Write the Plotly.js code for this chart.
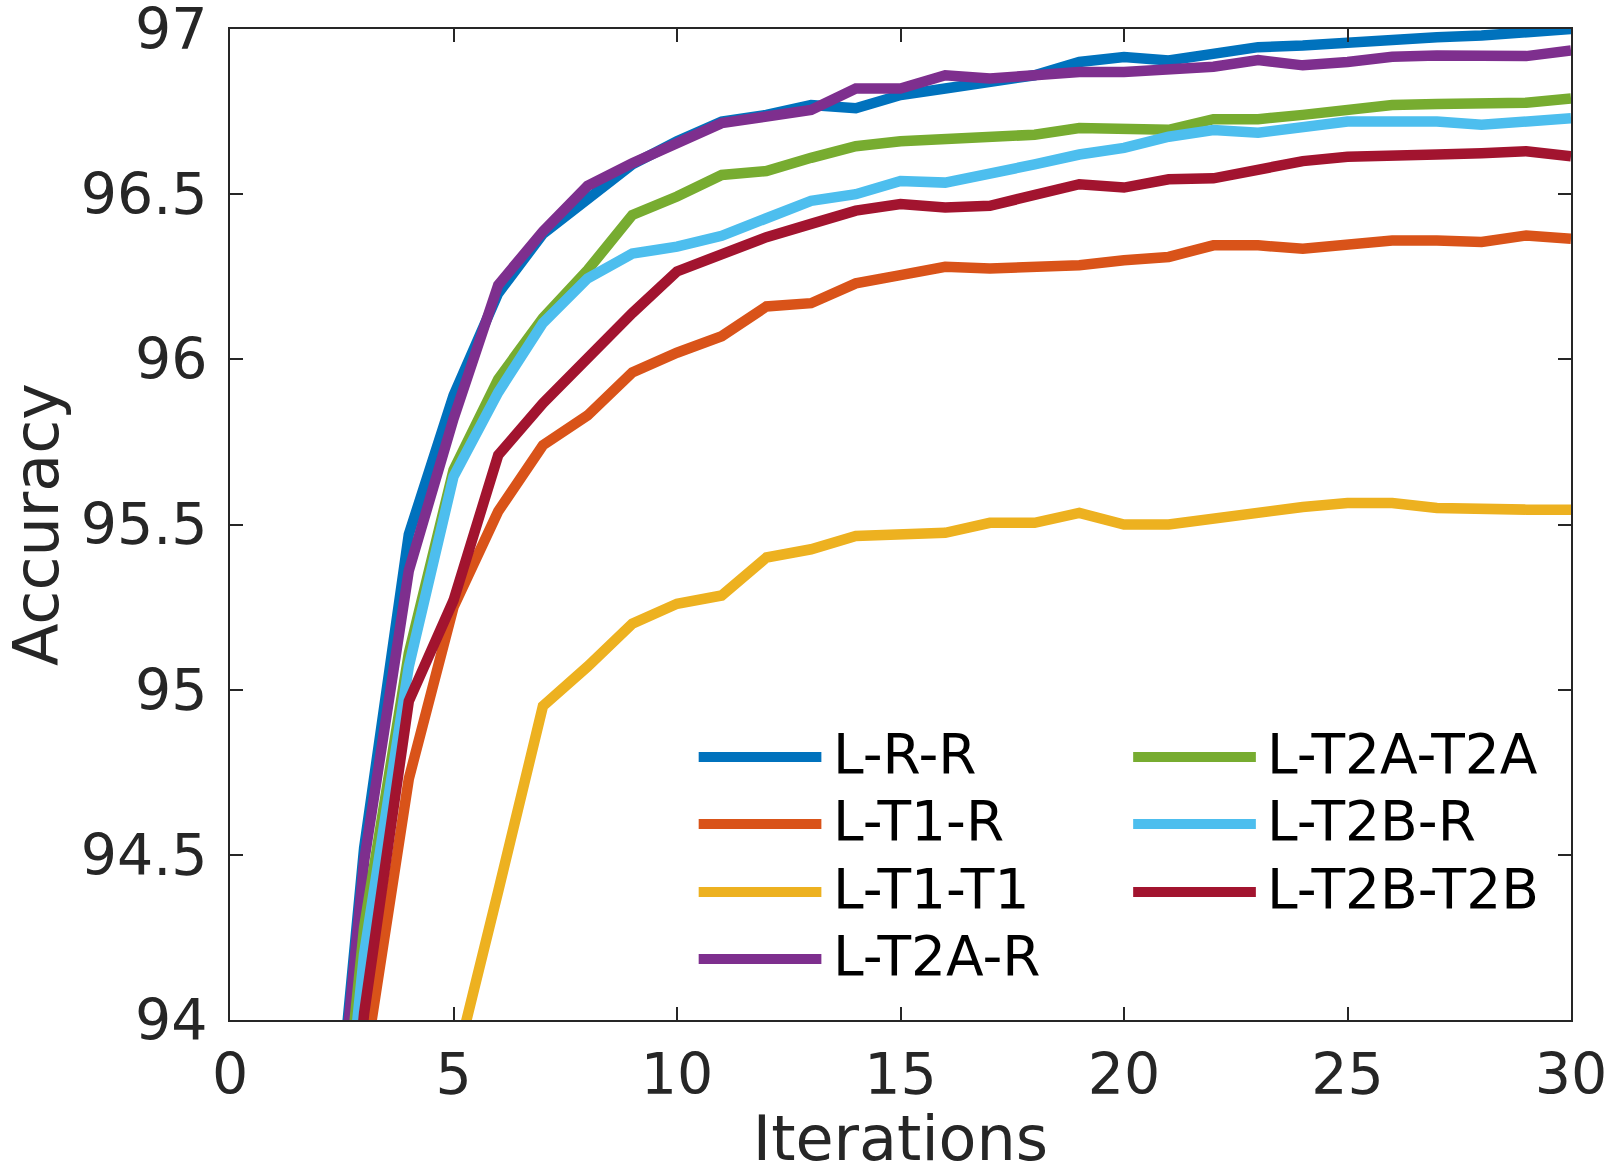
<!DOCTYPE html>
<html>
<head>
<meta charset="utf-8">
<script src="https://cdn.plot.ly/plotly-3.0.1.min.js"></script>
<style>
  body { margin: 0; background: #fff; }
  #chart { width: 1608px; height: 1175px; }
</style>
</head>
<body>
<div id="chart"></div>
<script>
// iterations on the x axis
var iterations = [1, 2, 3, 4, 5, 6, 7, 8, 9, 10, 11, 12, 13, 14, 15,
	16, 17, 18, 19, 20, 21, 22, 23, 24, 25, 26, 27, 28, 29, 30];

// accuracy per configuration
var accLRR = [90.5, 93.1, 94.52, 95.47, 95.89, 96.20, 96.38, 96.49, 96.59, 96.66,
	96.72, 96.74, 96.77, 96.76, 96.80, 96.82, 96.84, 96.86, 96.90, 96.915,
	96.905, 96.925, 96.945, 96.95, 96.96, 96.97, 96.975, 96.98, 96.99, 97.0];
var accLT1R = [89.2, 92.4, 93.85, 94.73, 95.25, 95.54, 95.74, 95.83, 95.96, 96.02,
	96.07, 96.16, 96.17, 96.23, 96.255, 96.28, 96.275, 96.28, 96.285, 96.30,
	96.31, 96.345, 96.345, 96.335, 96.35, 96.36, 96.36, 96.355, 96.375, 96.365];
var accLT1T1 = [86.5, 88.3, 90.1, 92.0, 93.84, 94.39, 94.95, 95.07, 95.20, 95.26,
	95.285, 95.40, 95.425, 95.465, 95.47, 95.475, 95.505, 95.505, 95.535, 95.50,
	95.50, 95.52, 95.535, 95.553, 95.565, 95.565, 95.55, 95.545, 95.545, 95.545];
var accLT2AR = [90.4, 93.07, 94.48, 95.36, 95.82, 96.225, 96.387, 96.525, 96.594, 96.656,
	96.715, 96.735, 96.755, 96.82, 96.82, 96.86, 96.85, 96.86, 96.87, 96.87,
	96.876, 96.886, 96.906, 96.89, 96.90, 96.916, 96.92, 96.916, 96.918, 96.935];
var accLT2AT2A = [90.2, 92.95, 94.28, 95.11, 95.665, 95.94, 96.125, 96.27, 96.437, 96.493,
	96.558, 96.57, 96.61, 96.645, 96.66, 96.667, 96.68, 96.68, 96.70, 96.695,
	96.695, 96.727, 96.727, 96.74, 96.757, 96.77, 96.773, 96.777, 96.777, 96.79];
var accLT2BR = [90.0, 92.87, 94.2, 95.07, 95.645, 95.90, 96.11, 96.245, 96.32, 96.341,
	96.374, 96.43, 96.48, 96.50, 96.54, 96.535, 96.56, 96.59, 96.62, 96.64,
	96.674, 96.694, 96.686, 96.706, 96.72, 96.72, 96.72, 96.71, 96.72, 96.73];
var accLT2BT2B = [89.6, 92.6, 94.02, 94.965, 95.27, 95.71, 95.867, 96.009, 96.14, 96.266,
	96.316, 96.37, 96.41, 96.45, 96.47, 96.46, 96.465, 96.50, 96.53, 96.52,
	96.545, 96.548, 96.578, 96.60, 96.613, 96.613, 96.62, 96.624, 96.63, 96.615];

var seriesNames = ['L-R-R', 'L-T1-R', 'L-T1-T1', 'L-T2A-R', 'L-T2A-T2A', 'L-T2B-R', 'L-T2B-T2B'];
var seriesValues = [accLRR, accLT1R, accLT1T1, accLT2AR, accLT2AT2A, accLT2BR, accLT2BT2B];

var xTickVals = [0, 5, 10, 15, 20, 25, 30];
var yTickVals = [94, 94.5, 95, 95.5, 96, 96.5, 97];
var yTickText = ['94', '94.5', '95', '95.5', '96', '96.5', '97'];

// matlab default colour order
var colors = ['#0072BD', '#D95319', '#EDB120', '#7E2F8E', '#77AC30', '#4DBEEE', '#A2142F'];

function drawChart() {
	var font = 'DejaVu Sans, sans-serif';
	var ink = '#262626';

	var traces = [];
	for (var i = 0; i < seriesNames.length; i++) {
		traces.push({
			x: iterations,
			y: seriesValues[i],
			type: 'scatter',
			mode: 'lines',
			name: seriesNames[i],
			line: { color: colors[i], width: 10.5 },
			showlegend: false
		});
	}

	// hand made legend, two columns, so the sample lines can be long
	var shapes = [];
	var annotations = [];
	var colX = [0.3495, 0.6735];
	var rowY = [0.2654, 0.1978, 0.1292, 0.0616];
	for (var k = 0; k < seriesNames.length; k++) {
		var col = k < 4 ? 0 : 1;
		var row = k < 4 ? k : k - 4;
		shapes.push({
			type: 'line', xref: 'paper', yref: 'paper',
			x0: colX[col], x1: colX[col] + 0.0915,
			y0: rowY[row], y1: rowY[row],
			line: { color: colors[k], width: 10 }
		});
		annotations.push({
			xref: 'paper', yref: 'paper',
			x: colX[col] + 0.0985, y: rowY[row],
			xanchor: 'left', yanchor: 'middle', yshift: 3,
			text: seriesNames[k], showarrow: false,
			font: { family: font, size: 55, color: '#000' }
		});
	}

	var layout = {
		width: 1608,
		height: 1175,
		margin: { l: 230, r: 37, t: 29, b: 155 },
		paper_bgcolor: '#fff',
		plot_bgcolor: '#fff',
		font: { family: font, color: ink },
		xaxis: {
			range: [0, 30],
			tickvals: xTickVals,
			ticks: 'inside', ticklen: 13, tickwidth: 2, tickcolor: ink,
			showline: true, linewidth: 2, linecolor: ink, mirror: 'ticks',
			showgrid: false, zeroline: false,
			tickfont: { family: font, size: 57, color: ink },
			ticklabelstandoff: 4,
			ticklabeloverflow: 'allow',
			title: { text: 'Iterations', font: { family: font, size: 62, color: ink }, standoff: 30 }
		},
		yaxis: {
			range: [94, 97],
			tickvals: yTickVals,
			ticktext: yTickText,
			ticks: 'inside', ticklen: 13, tickwidth: 2, tickcolor: ink,
			showline: true, linewidth: 2, linecolor: ink, mirror: 'ticks',
			showgrid: false, zeroline: false,
			tickfont: { family: font, size: 57, color: ink },
			ticklabelstandoff: 9,
			ticklabeloverflow: 'allow',
			title: { text: 'Accuracy', font: { family: font, size: 62, color: ink }, standoff: 24 }
		},
		shapes: shapes,
		annotations: annotations,
		showlegend: false
	};

	Plotly.newPlot('chart', traces, layout, { staticPlot: true, displayModeBar: false });
}

window.onload = drawChart;
</script>
</body>
</html>
